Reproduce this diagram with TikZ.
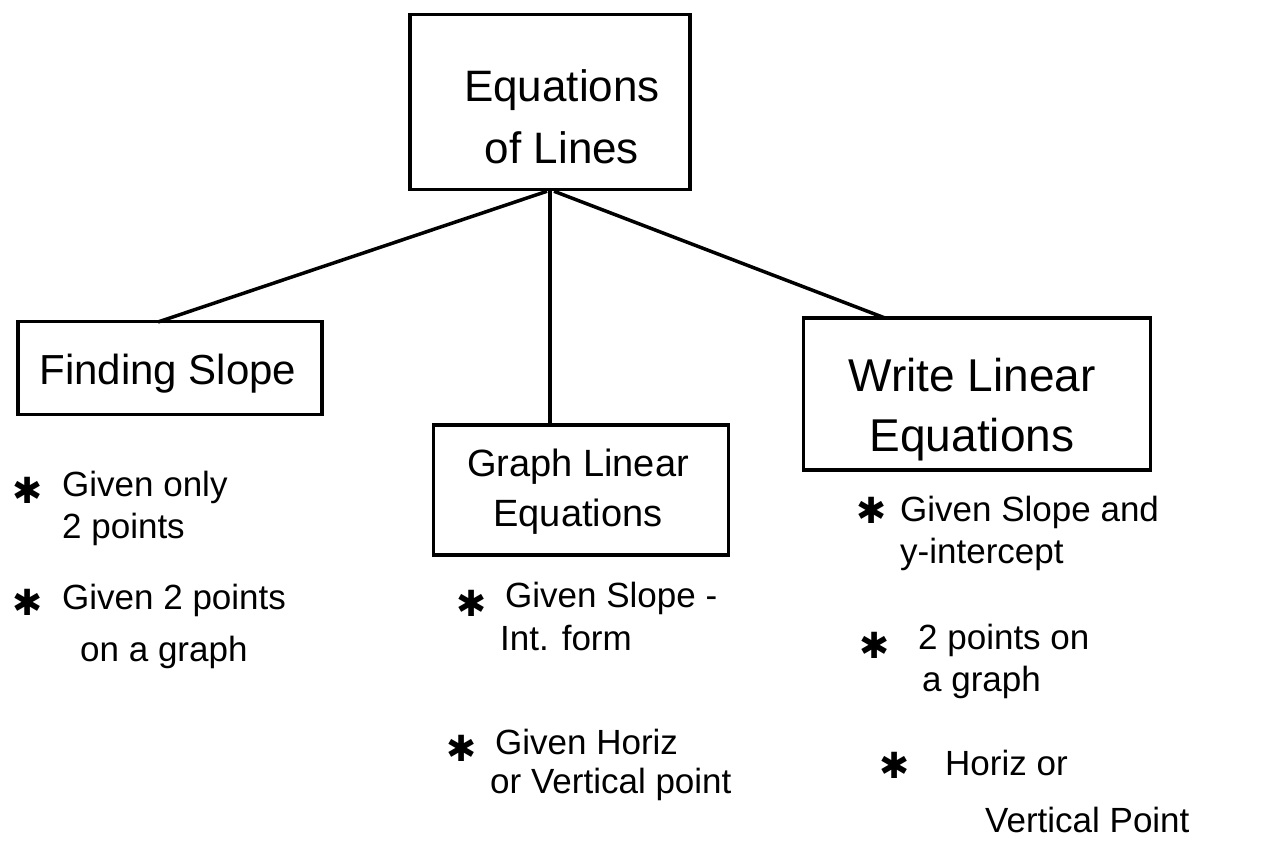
\documentclass[tikz,border=0pt]{standalone}
\usepackage{fontspec}
\setmainfont{Liberation Sans}
\newfontfamily\symfont{DejaVu Sans}
\usetikzlibrary{calc}
\begin{document}
\begin{tikzpicture}[x=1pt,y=-1pt,
  box/.style={draw, line width=3.5pt, inner sep=0pt},
  boxtext/.style={align=center, inner sep=0pt, font=\fontsize{44}{62}\selectfont},
  conn/.style={line width=3.5pt},
  bullet/.style={inner sep=0pt, font=\symfont\fontsize{36}{36}\selectfont},
  item/.style={anchor=west, inner sep=0pt, font=\fontsize{35}{40}\selectfont}]
\useasboundingbox (0,0) rectangle (1271,848);
\fill[white] (0,0) rectangle (1271,848);
% boxes
\node[box, minimum width=280pt, minimum height=175pt] (top) at (550,102) {};
\node[boxtext] (topT) at (562,117) {Equations\\of Lines};
\node[box, minimum width=304pt, minimum height=93pt] (fs) at (170,368) {};
\node[boxtext, font=\fontsize{42}{50}\selectfont] (fsT) at (168,374) {Finding Slope};
\node[box, minimum width=295pt, minimum height=130pt] (gl) at (581,490) {};
\node[boxtext, font=\fontsize{38}{50}\selectfont] (glT) at (578,492) {Graph Linear\\Equations};
\node[box, minimum width=347pt, minimum height=152pt] (wl) at (977,394) {};
\node[boxtext, font=\fontsize{46}{60}\selectfont] (wlT) at (972,410) {Write Linear\\Equations};
% connector ends
\coordinate (fsEnd) at (158,322);
\coordinate (glEnd) at (550,425);
\coordinate (wlEnd) at (885,318);
\draw[conn] ($(top.south)+(-3,0)$) -- (fsEnd);
\draw[conn] (top.south) -- (glEnd);
\draw[conn] ($(top.south)+(4,0)$) -- (wlEnd);
% bullets
\node[bullet] (sa) at (28,490) {✱};
\node[bullet] (sb) at (28,602) {✱};
\node[bullet] (sc) at (472,603) {✱};
\node[bullet] (sd) at (462,748) {✱};
\node[bullet] (se) at (872,510) {✱};
\node[bullet] (sf) at (875,645) {✱};
\node[bullet] (sg) at (895,765) {✱};
% bullet items
\node[item] (a1) at (62,487) {Given only};
\node[item] (a2) at (62,529) {2 points};
\node[item] (b1) at (62,600) {Given 2 points};
\node[item] (b2) at (80,652) {on a graph};
\node[item] (c1) at (505,598) {Given Slope -};
\node[item] (c2) at (500,638) {Int. form};
\node[item] (d1) at (495,742) {Given Horiz};
\node[item] (d2) at (490,784) {or Vertical point};
\node[item] (e1) at (900,512) {Given Slope and};
\node[item] (e2) at (900,554) {y-intercept};
\node[item] (f1) at (918,640) {2 points on};
\node[item] (f2) at (922,682) {a graph};
\node[item] (g1) at (945,763) {Horiz or};
\node[item] (g2) at (985,820) {Vertical Point};
\end{tikzpicture}
\end{document}
